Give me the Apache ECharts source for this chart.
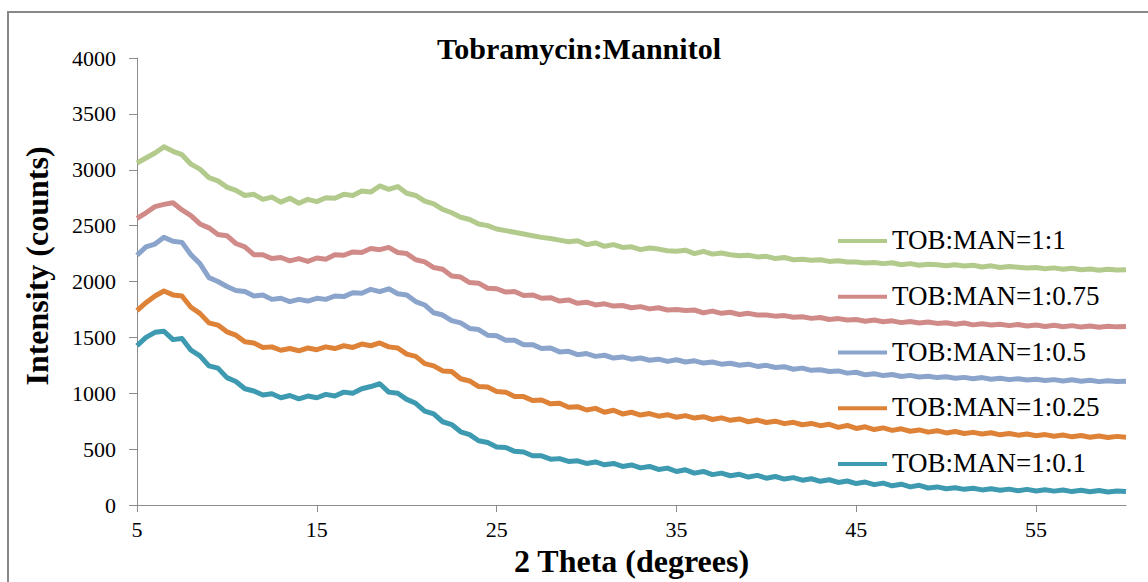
<!DOCTYPE html>
<html>
<head>
<meta charset="utf-8">
<script src="https://cdn.jsdelivr.net/npm/echarts@6/dist/echarts.min.js"></script>
<style>
  html, body { margin: 0; padding: 0; background: #fff; }
  #chart { width: 1148px; height: 582px; }
</style>
</head>
<body>
<div id="chart"></div>
<script>
// 2 theta sampling (degrees)
const theta = [5,5.5,6,6.5,7,7.5,8,8.5,9,9.5,10,10.5,11,11.5,12,12.5,13,13.5,14,14.5,
  15,15.5,16,16.5,17,17.5,18,18.5,19,19.5,20,20.5,21,21.5,22,22.5,23,23.5,24,24.5,
  25,25.5,26,26.5,27,27.5,28,28.5,29,29.5,30,30.5,31,31.5,32,32.5,33,33.5,34,34.5,
  35,35.5,36,36.5,37,37.5,38,38.5,39,39.5,40,40.5,41,41.5,42,42.5,43,43.5,44,44.5,
  45,45.5,46,46.5,47,47.5,48,48.5,49,49.5,50,50.5,51,51.5,52,52.5,53,53.5,54,54.5,
  55,55.5,56,56.5,57,57.5,58,58.5,59,59.5,60];

// intensities (counts)
const man1 = [
  3060,3105,3150,3205,3165,3135,3050,3005,2930,2900,
  2845,2815,2770,2780,2735,2755,2710,2745,2700,2735,
  2715,2750,2745,2780,2770,2810,2800,2855,2825,2850,
  2790,2770,2720,2695,2645,2615,2575,2555,2515,2500,
  2470,2455,2440,2425,2410,2395,2385,2370,2355,2365,
  2330,2345,2315,2330,2305,2310,2285,2300,2290,2275,
  2270,2280,2250,2270,2245,2255,2240,2230,2235,2220,
  2225,2205,2215,2195,2200,2190,2195,2180,2185,2175,
  2175,2165,2170,2160,2168,2150,2160,2145,2155,2150,
  2140,2150,2138,2145,2130,2140,2125,2135,2128,2120,
  2125,2115,2122,2110,2118,2105,2112,2100,2110,2102,
  2106];
const man075 = [
  2565,2615,2670,2690,2705,2640,2590,2515,2480,2420,
  2410,2340,2310,2240,2240,2205,2215,2185,2205,2180,
  2210,2200,2240,2235,2265,2260,2295,2285,2305,2260,
  2250,2195,2175,2125,2110,2050,2040,1990,1985,1940,
  1935,1905,1910,1875,1880,1850,1855,1825,1835,1805,
  1815,1790,1800,1780,1785,1765,1775,1755,1765,1745,
  1750,1740,1745,1720,1735,1715,1725,1705,1715,1700,
  1700,1690,1695,1680,1685,1670,1678,1660,1668,1655,
  1660,1645,1655,1640,1648,1632,1642,1628,1638,1625,
  1630,1618,1628,1612,1622,1610,1618,1605,1615,1602,
  1610,1598,1608,1595,1605,1592,1602,1590,1600,1594,
  1597];
const man05 = [
  2235,2310,2335,2395,2360,2350,2240,2160,2035,2000,
  1955,1920,1910,1870,1880,1840,1850,1820,1840,1825,
  1850,1840,1870,1865,1900,1895,1930,1910,1935,1890,
  1880,1820,1790,1720,1700,1650,1630,1580,1570,1520,
  1515,1475,1475,1435,1435,1400,1405,1370,1375,1345,
  1355,1330,1340,1315,1325,1305,1315,1295,1305,1285,
  1300,1280,1290,1270,1280,1260,1268,1250,1260,1240,
  1250,1230,1238,1215,1225,1205,1210,1195,1200,1180,
  1188,1165,1175,1158,1168,1150,1160,1145,1152,1140,
  1148,1135,1142,1130,1140,1126,1135,1122,1130,1118,
  1126,1115,1122,1110,1120,1108,1116,1104,1112,1106,
  1108];
const man025 = [
  1740,1810,1870,1915,1880,1870,1770,1715,1630,1610,
  1550,1520,1460,1450,1410,1415,1385,1400,1380,1405,
  1390,1415,1400,1425,1410,1440,1425,1450,1415,1405,
  1350,1330,1265,1245,1200,1195,1130,1110,1060,1055,
  1015,1010,970,970,935,940,905,910,875,880,
  850,865,830,848,815,830,805,818,795,808,
  785,800,778,790,765,780,758,770,745,760,
  738,750,728,740,718,730,710,722,695,712,
  685,700,675,690,668,682,660,672,652,665,
  645,658,640,650,635,646,628,640,625,635,
  620,630,615,626,610,622,606,618,604,614,
  606];
const man01 = [
  1425,1500,1545,1555,1480,1490,1385,1335,1245,1225,
  1140,1105,1040,1020,985,995,960,980,950,975,
  960,990,975,1010,1000,1040,1060,1085,1010,1000,
  945,910,840,815,745,720,655,630,575,560,
  520,515,480,475,440,440,410,415,390,395,
  372,385,360,372,345,358,332,345,318,330,
  300,315,285,300,272,285,262,275,250,265,
  240,255,232,245,222,235,212,226,202,215,
  192,205,182,196,172,186,162,176,152,162,
  145,155,140,150,135,146,132,142,128,140,
  126,136,124,134,120,132,118,130,116,126,
  120];

const seriesNames = ['TOB:MAN=1:1', 'TOB:MAN=1:0.75', 'TOB:MAN=1:0.5', 'TOB:MAN=1:0.25', 'TOB:MAN=1:0.1'];
const seriesValues = [man1, man075, man05, man025, man01];
const seriesColors = ['#B3CA8D', '#D08B89', '#8BA4CC', '#DE8238', '#3D9AB0'];
const xTicks = [5, 15, 25, 35, 45, 55];
const yTicks = [0, 500, 1000, 1500, 2000, 2500, 3000, 3500, 4000];

const serif = 'Liberation Serif';
const axisGray = '#8c8c8c';

const chart = echarts.init(document.getElementById('chart'), null, { renderer: 'svg' });

const series = seriesNames.map((name, i) => ({
  name: name,
  type: 'line',
  data: theta.map((t, j) => [t, seriesValues[i][j]]),
  symbol: 'none',
  showSymbol: false,
  animation: false,
  lineStyle: { color: seriesColors[i], width: 5, join: 'round' },
  itemStyle: { color: seriesColors[i] }
}));

chart.setOption({
  animation: false,
  backgroundColor: '#fff',
  grid: { left: 137, right: 22, top: 58, bottom: 74 },
  xAxis: {
    type: 'value',
    min: 5,
    max: 60,
    name: '2 Theta (degrees)',
    nameLocation: 'middle',
    nameGap: 40,
    nameTextStyle: { fontFamily: serif, fontSize: 32, fontWeight: 'bold', color: '#000' },
    axisLine: { show: true, lineStyle: { color: axisGray, width: 1 } },
    axisTick: { show: true, length: 7, lineStyle: { color: axisGray }, customValues: xTicks },
    axisLabel: { show: false },
    splitLine: { show: false }
  },
  yAxis: {
    type: 'value',
    min: 0,
    max: 4000,
    interval: 500,
    axisLine: { show: true, lineStyle: { color: axisGray, width: 1 } },
    axisTick: { show: true, length: 8, lineStyle: { color: axisGray } },
    axisLabel: { show: false },
    splitLine: { show: false }
  },
  series: series
});

// tick labels placed through the axis scales (serif text via graphic)
const labels = [];
yTicks.forEach((v) => {
  const p = chart.convertToPixel({ gridIndex: 0 }, [5, v]);
  labels.push({
    type: 'text', x: p[0] - 21, y: p[1],
    style: { text: String(v), font: '22px ' + serif, fill: '#000', textAlign: 'right', textVerticalAlign: 'middle' }
  });
});
xTicks.forEach((v) => {
  const p = chart.convertToPixel({ gridIndex: 0 }, [v, 0]);
  labels.push({
    type: 'text', x: p[0], y: p[1] + 13,
    style: { text: String(v), font: '22px ' + serif, fill: '#000', textAlign: 'center', textVerticalAlign: 'top' }
  });
});

// legend: line swatch + serif label
const legendItems = [];
seriesNames.forEach((name, i) => {
  const cy = 241 + i * 55.75;
  legendItems.push({
    type: 'line', silent: true,
    shape: { x1: 838, y1: cy, x2: 887, y2: cy },
    style: { stroke: seriesColors[i], lineWidth: 4 }
  });
  legendItems.push({
    type: 'text', x: 892, y: cy - 1,
    style: { text: name, font: '27px ' + serif, fill: '#000', textAlign: 'left', textVerticalAlign: 'middle' }
  });
});

chart.setOption({
  graphic: [
    {
      type: 'rect',
      silent: true,
      shape: { x: 8, y: 12, width: 1200, height: 700 },
      style: { fill: 'none', stroke: '#888', lineWidth: 2 }
    },
    {
      type: 'text',
      x: 579,
      y: 48,
      style: {
        text: 'Tobramycin:Mannitol',
        font: 'bold 30px ' + serif,
        fill: '#000',
        textAlign: 'center',
        textVerticalAlign: 'middle'
      }
    },
    {
      type: 'text',
      x: 37,
      y: 266,
      rotation: Math.PI / 2,
      style: {
        text: 'Intensity (counts)',
        font: 'bold 32px ' + serif,
        fill: '#000',
        textAlign: 'center',
        textVerticalAlign: 'middle'
      }
    }
  ].concat(labels, legendItems)
});
</script>
</body>
</html>
